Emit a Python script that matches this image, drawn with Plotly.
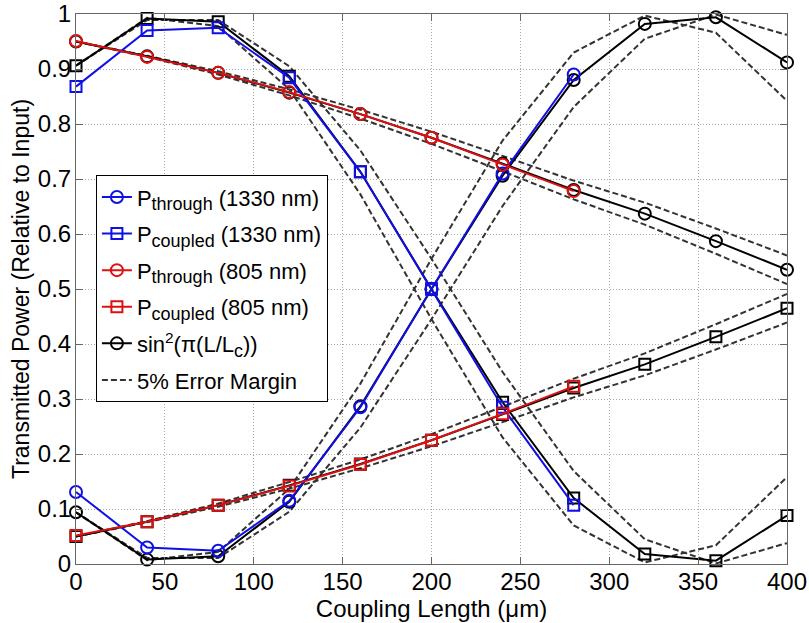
import plotly.graph_objects as go

# ---------------- data ----------------
L_all = [0, 40, 80, 120, 160, 200, 240, 280, 320, 360, 400]
L_meas = [0, 40, 80, 120, 160, 200, 240, 280]

# measured (simulated) values
through_1330 = [0.131, 0.030, 0.024, 0.115, 0.285, 0.500, 0.710, 0.890]
coupled_1330 = [0.868, 0.970, 0.975, 0.884, 0.713, 0.500, 0.285, 0.107]
through_805 = [0.951, 0.922, 0.893, 0.858, 0.818, 0.775, 0.726, 0.678]
coupled_805 = [0.052, 0.077, 0.107, 0.142, 0.181, 0.225, 0.273, 0.323]

# theory sin^2(pi(L/Lc))
th_through_1330 = [0.094, 0.008, 0.014, 0.113, 0.287, 0.500, 0.706, 0.880, 0.982, 0.994, 0.912]
th_coupled_1330 = [0.906, 0.992, 0.986, 0.887, 0.713, 0.500, 0.294, 0.120, 0.018, 0.006, 0.088]
th_through_805 = [0.950, 0.923, 0.893, 0.857, 0.818, 0.775, 0.728, 0.680, 0.637, 0.587, 0.535]
th_coupled_805 = [0.050, 0.077, 0.107, 0.143, 0.182, 0.225, 0.272, 0.320, 0.363, 0.413, 0.465]

# 5% error margins
err_through_1330_a = [0.094, 0.007, 0.022, 0.137, 0.328, 0.555, 0.770, 0.930, 0.997, 0.966, 0.842]
err_through_1330_b = [0.094, 0.011, 0.011, 0.095, 0.248, 0.445, 0.651, 0.831, 0.955, 0.999, 0.962]
err_coupled_1330_a = [0.906, 0.993, 0.978, 0.863, 0.672, 0.445, 0.230, 0.070, 0.003, 0.034, 0.158]
err_coupled_1330_b = [0.906, 0.989, 0.989, 0.905, 0.752, 0.555, 0.349, 0.169, 0.045, 0.001, 0.038]
err_through_805_hi = [0.950, 0.924, 0.896, 0.863, 0.826, 0.786, 0.742, 0.697, 0.657, 0.610, 0.561]
err_through_805_lo = [0.950, 0.922, 0.890, 0.852, 0.810, 0.764, 0.714, 0.663, 0.617, 0.564, 0.509]
err_coupled_805_hi = [0.050, 0.078, 0.110, 0.149, 0.190, 0.236, 0.286, 0.337, 0.383, 0.436, 0.491]
err_coupled_805_lo = [0.050, 0.076, 0.104, 0.137, 0.174, 0.214, 0.258, 0.303, 0.343, 0.390, 0.439]

x_ticks = [0, 50, 100, 150, 200, 250, 300, 350, 400]
y_ticks = [0, 0.1, 0.2, 0.3, 0.4, 0.5, 0.6, 0.7, 0.8, 0.9, 1.0]
y_ticktext = ["0", "0.1", "0.2", "0.3", "0.4", "0.5", "0.6", "0.7", "0.8", "0.9", "1"]

BLUE = "#1010e6"
RED = "#dd1111"
BLACK = "#000000"
DASH = "#333333"
SUB = '<sub><span style="font-size:18px">%s</span></sub>'

fig = go.Figure()

# error margins (drawn first)
err_sets = [err_through_1330_a, err_through_1330_b, err_coupled_1330_a, err_coupled_1330_b,
            err_through_805_hi, err_through_805_lo, err_coupled_805_hi, err_coupled_805_lo]
for i, ys in enumerate(err_sets):
    fig.add_trace(go.Scatter(
        x=L_all, y=ys, mode="lines",
        line=dict(color=DASH, width=2, dash="6px,3px"),
        name="5% Error Margin", showlegend=(i == 0),
        legendgroup="g6", legendrank=6, cliponaxis=False))

# theory
theory = [(th_through_1330, "circle-open", 12), (th_coupled_1330, "square-open", 11),
          (th_through_805, "circle-open", 12), (th_coupled_805, "square-open", 11)]
for i, (ys, sym, sz) in enumerate(theory):
    fig.add_trace(go.Scatter(
        x=L_all, y=ys, mode="lines+markers",
        line=dict(color=BLACK, width=2),
        marker=dict(symbol=sym, size=sz, color=BLACK, line=dict(width=2, color=BLACK)),
        name="sin<sup>2</sup>(π(L/L" + SUB % "c" + "))",
        showlegend=(i == 0), legendgroup="g5", legendrank=5, cliponaxis=False))

# measured
meas = [
    (through_1330, BLUE, "circle-open", 12, "P" + SUB % "through" + " (1330 nm)", 1),
    (coupled_1330, BLUE, "square-open", 11, "P" + SUB % "coupled" + " (1330 nm)", 2),
    (through_805, RED, "circle-open", 12, "P" + SUB % "through" + " (805 nm)", 3),
    (coupled_805, RED, "square-open", 11, "P" + SUB % "coupled" + " (805 nm)", 4),
]
for ys, col, sym, sz, nm, rk in meas:
    fig.add_trace(go.Scatter(
        x=L_meas, y=ys, mode="lines+markers",
        line=dict(color=col, width=2),
        marker=dict(symbol=sym, size=sz, color=col, line=dict(width=2, color=col)),
        name=nm, legendgroup="g%d" % rk, legendrank=rk, cliponaxis=False))

axis_common = dict(
    showline=True, linecolor="#666666", linewidth=1, mirror="ticks",
    ticks="inside", ticklen=7, tickcolor="#666666",
    showgrid=True, gridcolor="#aaaaaa", griddash="1px,2px", gridwidth=1,
    zeroline=False, tickfont=dict(size=24, color="black"), automargin=False,
    ticklabeloverflow="allow")

fig.update_xaxes(range=[0, 400], tickvals=x_ticks, ticklabelstandoff=-4,
                 title=dict(text="Coupling Length (μm)", font=dict(size=24), standoff=4),
                 **axis_common)
fig.update_yaxes(range=[0, 1], tickvals=y_ticks, ticktext=y_ticktext, ticklabelstandoff=-1,
                 title=dict(text="Transmitted Power (Relative to Input)", font=dict(size=23), standoff=1),
                 **axis_common)

fig.update_layout(
    width=809, height=623,
    margin=dict(l=76, r=22, t=14, b=59),
    plot_bgcolor="white", paper_bgcolor="white",
    font=dict(family="Liberation Sans, Arial, sans-serif", size=22, color="black"),
    legend=dict(x=0.028, y=0.707, xanchor="left", yanchor="top",
                bgcolor="white", bordercolor="black", borderwidth=1,
                font=dict(size=22), traceorder="grouped", tracegroupgap=5,
                itemwidth=30),
)

fig.write_html("out.html")
